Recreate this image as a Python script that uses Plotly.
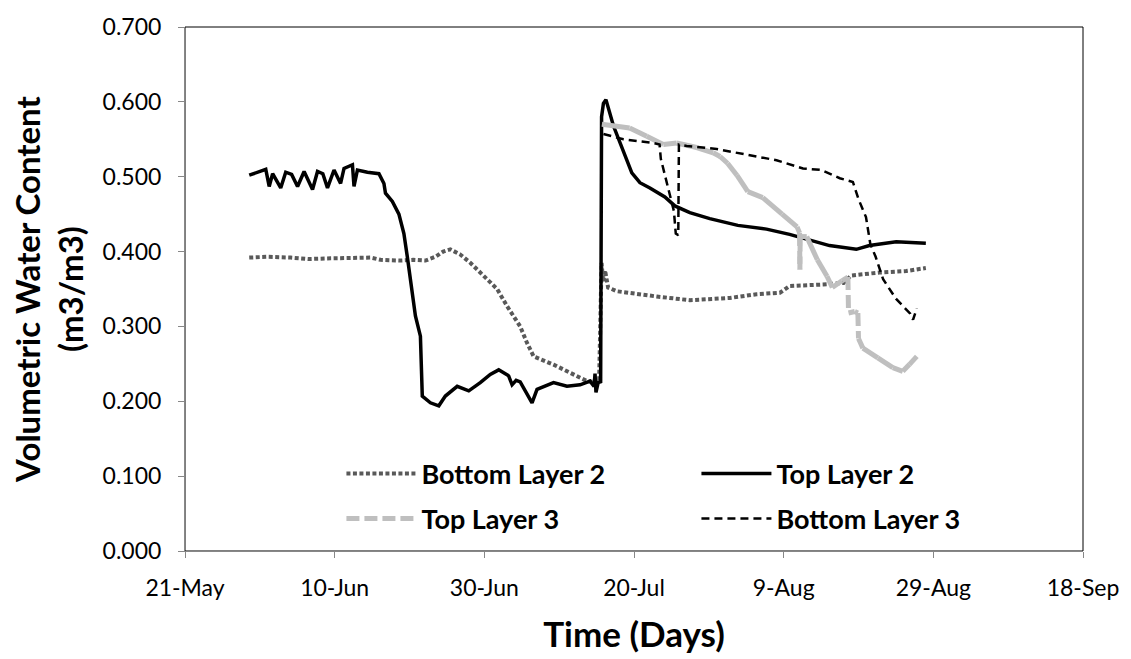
import pandas as pd
import plotly.graph_objects as go

# Volumetric water content readings per sensor (timestamp, m3/m3)
bottom2_time = [
    "2013-05-29 14:00", "2013-06-01 00:00", "2013-06-04 03:00", "2013-06-06 12:00",
    "2013-06-09 11:00", "2013-06-12 00:00", "2013-06-14 19:00", "2013-06-16 03:00",
    "2013-06-18 19:00", "2013-06-20 12:00", "2013-06-22 03:00", "2013-06-23 11:00",
    "2013-06-24 12:00", "2013-06-25 11:00", "2013-06-26 19:00", "2013-06-28 03:00",
    "2013-06-29 22:00", "2013-07-01 17:00", "2013-07-03 01:00", "2013-07-03 22:00",
    "2013-07-04 19:00", "2013-07-05 17:00", "2013-07-06 14:00", "2013-07-09 06:00",
    "2013-07-11 11:00", "2013-07-13 17:00", "2013-07-15 08:00", "2013-07-15 16:00",
    "2013-07-15 21:00", "2013-07-16 03:00", "2013-07-16 13:00", "2013-07-17 17:00",
    "2013-07-23 01:00", "2013-07-27 11:00", "2013-08-01 19:00", "2013-08-05 09:00",
    "2013-08-08 12:00", "2013-08-09 19:00", "2013-08-14 06:00", "2013-08-17 00:00",
    "2013-08-18 00:00", "2013-08-21 19:00", "2013-08-25 09:00", "2013-08-28 00:00",
]
bottom2_vwc = [
    0.392, 0.393, 0.392, 0.390,
    0.391, 0.392, 0.392, 0.389,
    0.388, 0.389, 0.388, 0.393,
    0.400, 0.403, 0.396, 0.385,
    0.367, 0.350, 0.327, 0.314,
    0.300, 0.278, 0.260, 0.249,
    0.238, 0.227, 0.225, 0.385,
    0.360, 0.375, 0.352, 0.347,
    0.340, 0.335, 0.338, 0.343,
    0.345, 0.354, 0.356, 0.358,
    0.368, 0.372, 0.374, 0.378,
]

top2_time = [
    "2013-05-29 14:00", "2013-05-30 17:00", "2013-05-31 19:00", "2013-06-01 06:00",
    "2013-06-01 17:00", "2013-06-02 19:00", "2013-06-03 11:00", "2013-06-04 06:00",
    "2013-06-05 01:00", "2013-06-05 22:00", "2013-06-07 01:00", "2013-06-07 17:00",
    "2013-06-08 10:00", "2013-06-09 01:00", "2013-06-09 22:00", "2013-06-10 19:00",
    "2013-06-11 06:00", "2013-06-12 09:00", "2013-06-12 14:00", "2013-06-13 01:00",
    "2013-06-14 09:00", "2013-06-15 22:00", "2013-06-16 14:00", "2013-06-16 19:00",
    "2013-06-17 17:00", "2013-06-18 14:00", "2013-06-19 06:00", "2013-06-19 17:00",
    "2013-06-20 19:00", "2013-06-21 11:00", "2013-06-21 17:00", "2013-06-22 19:00",
    "2013-06-23 22:00", "2013-06-24 19:00", "2013-06-26 09:00", "2013-06-27 22:00",
    "2013-06-29 11:00", "2013-06-30 19:00", "2013-07-01 22:00", "2013-07-03 06:00",
    "2013-07-03 17:00", "2013-07-04 06:00", "2013-07-04 19:00", "2013-07-06 09:00",
    "2013-07-07 01:00", "2013-07-09 06:00", "2013-07-11 01:00", "2013-07-12 19:00",
    "2013-07-14 03:00", "2013-07-14 16:00", "2013-07-14 19:00", "2013-07-14 22:00",
    "2013-07-15 05:00", "2013-07-15 13:00", "2013-07-15 16:00", "2013-07-15 22:00",
    "2013-07-16 06:00", "2013-07-17 06:00", "2013-07-18 03:00", "2013-07-19 17:00",
    "2013-07-20 19:00", "2013-07-22 03:00", "2013-07-24 03:00", "2013-07-25 11:00",
    "2013-07-27 11:00", "2013-07-30 03:00", "2013-08-02 21:00", "2013-08-06 17:00",
    "2013-08-09 19:00", "2013-08-12 01:00", "2013-08-15 03:00", "2013-08-18 17:00",
    "2013-08-20 11:00", "2013-08-24 01:00", "2013-08-28 00:00",
]
top2_vwc = [
    0.502, 0.506, 0.510, 0.487,
    0.504, 0.485, 0.506, 0.503,
    0.487, 0.507, 0.483, 0.507,
    0.504, 0.485, 0.509, 0.491,
    0.511, 0.516, 0.487, 0.509,
    0.506, 0.504, 0.491, 0.478,
    0.467, 0.450, 0.424, 0.393,
    0.314, 0.287, 0.207, 0.198,
    0.194, 0.207, 0.220, 0.214,
    0.225, 0.236, 0.242, 0.234,
    0.222, 0.228, 0.226, 0.198,
    0.216, 0.225, 0.220, 0.222,
    0.227, 0.220, 0.237, 0.212,
    0.225, 0.226, 0.580, 0.598,
    0.603, 0.568, 0.545, 0.505,
    0.492, 0.485, 0.473, 0.461,
    0.452, 0.444, 0.435, 0.430,
    0.423, 0.417, 0.408, 0.403,
    0.408, 0.413, 0.411,
]

top3_time = [
    "2013-07-15 17:00", "2013-07-19 10:00", "2013-07-21 17:00", "2013-07-23 22:00",
    "2013-07-25 17:00", "2013-07-28 09:00", "2013-07-30 14:00", "2013-07-31 12:00",
    "2013-08-01 12:00", "2013-08-02 18:00", "2013-08-04 05:00", "2013-08-06 05:00",
    "2013-08-08 19:00", "2013-08-10 19:00", "2013-08-11 03:00", "2013-08-11 04:00",
    "2013-08-11 05:00", "2013-08-12 02:00", "2013-08-13 12:00", "2013-08-14 19:00",
    "2013-08-15 12:00", "2013-08-16 19:00", "2013-08-17 14:00", "2013-08-17 16:00",
    "2013-08-18 12:00", "2013-08-18 22:00", "2013-08-19 00:00", "2013-08-19 14:00",
    "2013-08-21 14:00", "2013-08-23 14:00", "2013-08-24 22:00", "2013-08-25 19:00",
    "2013-08-26 19:00",
]
top3_vwc = [
    0.570, 0.565, 0.554, 0.543,
    0.545, 0.539, 0.532, 0.527,
    0.518, 0.502, 0.480, 0.472,
    0.450, 0.433, 0.425, 0.376,
    0.420, 0.420, 0.389, 0.367,
    0.352, 0.361, 0.366, 0.318,
    0.320, 0.318, 0.284, 0.271,
    0.258, 0.245, 0.240, 0.249,
    0.260,
]

bottom3_time = [
    "2013-07-15 22:00", "2013-07-18 14:00", "2013-07-22 14:00", "2013-07-23 10:00",
    "2013-07-23 14:00", "2013-07-25 08:00", "2013-07-25 14:00", "2013-07-25 22:00",
    "2013-07-26 00:00", "2013-07-27 01:00", "2013-07-31 01:00", "2013-08-04 01:00",
    "2013-08-08 01:00", "2013-08-11 14:00", "2013-08-14 00:00", "2013-08-16 12:00",
    "2013-08-18 06:00", "2013-08-19 00:00", "2013-08-20 00:00", "2013-08-20 14:00",
    "2013-08-21 07:00", "2013-08-22 07:00", "2013-08-24 00:00", "2013-08-25 22:00",
    "2013-08-26 07:00", "2013-08-26 19:00",
]
bottom3_vwc = [
    0.557, 0.550, 0.545, 0.543,
    0.524, 0.454, 0.424, 0.422,
    0.543, 0.541, 0.537, 0.530,
    0.522, 0.511, 0.509, 0.498,
    0.493, 0.470, 0.446, 0.410,
    0.393, 0.363, 0.337, 0.317,
    0.309, 0.324,
]

date_ticks_start = "2013-05-21"
date_range = ["2013-05-21", "2013-09-18"]
y_title = "<b>Volumetric Water Content</b><br><b>(m3/m3)</b>"
x_title = "<b>Time (Days)</b>"

FONT = "Lato"
AXIS_GRAY = "#878787"
LIGHT_GRAY = "#BFBFBF"


def split_jumps(times, values, max_hours=3.0, min_step=0.03):
    """Separate abrupt reading changes (sensor jumps) from gradual segments.

    The dashed style restarts on every logged segment, so only the long
    jump segments show visible dashes; gradual stretches look continuous.
    """
    t = pd.to_datetime(times)
    smooth_x, smooth_y, jump_x, jump_y = [], [], [], []
    for i in range(len(t) - 1):
        hours = (t[i + 1] - t[i]).total_seconds() / 3600.0
        step = abs(values[i + 1] - values[i])
        if hours <= max_hours and step >= min_step:
            jump_x += [t[i], t[i + 1], None]
            jump_y += [values[i], values[i + 1], None]
        else:
            smooth_x += [t[i], t[i + 1], None]
            smooth_y += [values[i], values[i + 1], None]
    return smooth_x, smooth_y, jump_x, jump_y


t3_sx, t3_sy, t3_jx, t3_jy = split_jumps(top3_time, top3_vwc)

fig = go.Figure()

fig.add_trace(go.Scatter(
    x=bottom2_time, y=bottom2_vwc, name="Bottom Layer 2", mode="lines",
    line=dict(color="#595959", width=4, dash="4px,2.5px"), legend="legend",
))
fig.add_trace(go.Scatter(
    x=top2_time, y=top2_vwc, name="Top Layer 2", mode="lines",
    line=dict(color="#000000", width=3.5), legend="legend",
))
fig.add_trace(go.Scatter(
    x=t3_sx, y=t3_sy, name="Top Layer 3", mode="lines", connectgaps=False,
    line=dict(color=LIGHT_GRAY, width=5), legend="legend2",
    legendgroup="top3", showlegend=False,
))
fig.add_trace(go.Scatter(
    x=t3_jx, y=t3_jy, name="Top Layer 3", mode="lines", connectgaps=False,
    line=dict(color=LIGHT_GRAY, width=5, dash="13px,5px"), legend="legend2",
    legendgroup="top3",
))
fig.add_trace(go.Scatter(
    x=bottom3_time, y=bottom3_vwc, name="Bottom Layer 3", mode="lines",
    line=dict(color="#000000", width=2.5, dash="8px,5px"), legend="legend2",
))

legend_common = dict(
    orientation="h",
    xanchor="left",
    yanchor="middle",
    itemwidth=70,
    entrywidth=270,
    entrywidthmode="pixels",
    bgcolor="rgba(0,0,0,0)",
    borderwidth=0,
    font=dict(family=FONT, size=27, color="#000000", weight="bold"),
    traceorder="normal",
)

fig.update_layout(
    width=1131,
    height=659,
    margin=dict(l=185, r=42, t=19, b=102),
    paper_bgcolor="white",
    plot_bgcolor="white",
    font=dict(family=FONT, color="#000000"),
    showlegend=True,
    legend=dict(x=0.1742, y=0.147, **legend_common),
    legend2=dict(x=0.1742, y=0.0614, **legend_common),
    xaxis=dict(
        type="date",
        range=date_range,
        tick0=date_ticks_start,
        dtick=20 * 86400000,
        tickformat="%-d-%b",
        ticks="outside",
        ticklen=6,
        tickcolor=AXIS_GRAY,
        ticklabelstandoff=10,
        showline=True,
        linecolor=AXIS_GRAY,
        linewidth=1,
        showgrid=False,
        zeroline=False,
        tickfont=dict(family=FONT, size=23, color="#000000"),
        title=dict(text=x_title,
                   font=dict(family=FONT, size=35, color="#000000"), standoff=22),
    ),
    yaxis=dict(
        range=[0, 0.7],
        dtick=0.1,
        tickformat=".3f",
        ticks="outside",
        ticklen=6,
        tickcolor=AXIS_GRAY,
        ticklabelstandoff=12,
        showline=True,
        linecolor=AXIS_GRAY,
        linewidth=1,
        showgrid=False,
        zeroline=False,
        tickfont=dict(family=FONT, size=23, color="#000000"),
    ),
    annotations=[dict(
        text=y_title, textangle=-90, showarrow=False,
        xref="paper", yref="paper", x=-0.1527, y=0.5,
        xanchor="center", yanchor="middle",
        font=dict(family=FONT, size=33, color="#000000"),
    )],
    shapes=[dict(
        type="rect", xref="paper", yref="paper", x0=0, y0=0, x1=1, y1=1,
        line=dict(color="#000000", width=1), fillcolor="rgba(0,0,0,0)", layer="below",
    )],
)

fig.write_html("out.html")
